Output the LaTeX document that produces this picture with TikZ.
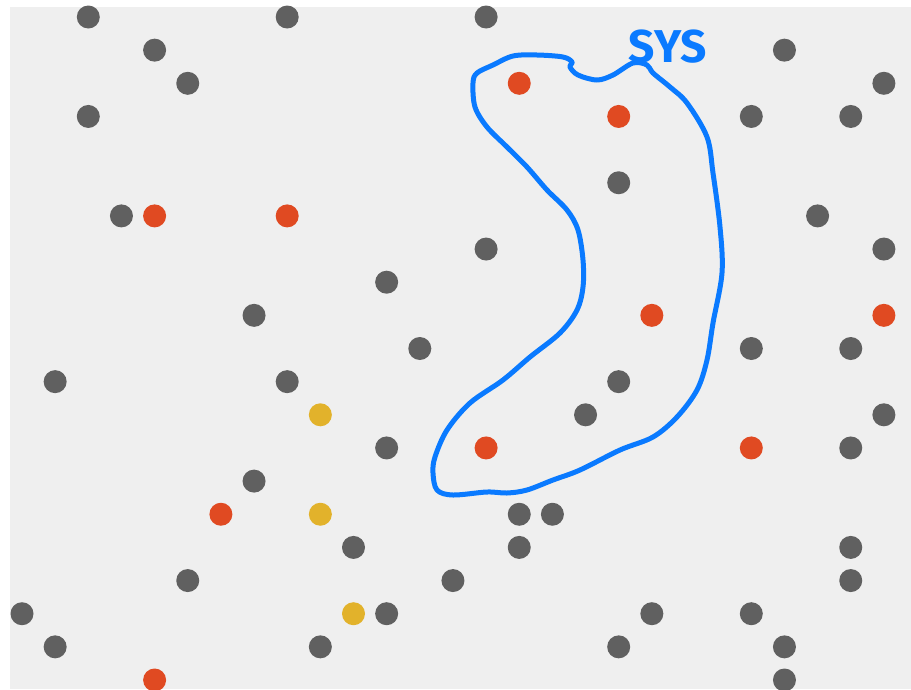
\documentclass[tikz,border=0pt]{standalone}
\usepackage{fontspec}
\usepackage{xcolor}
\usetikzlibrary{positioning}
\newfontfamily\maofonte{Fira Sans}
\definecolor{fundo}{HTML}{EFEFEF}
\definecolor{cinza}{HTML}{606060}
\definecolor{vermelho}{HTML}{E04A22}
\definecolor{amarelo}{HTML}{E2B22B}
\definecolor{azul}{HTML}{0A7AFF}

\begin{document}
\begin{tikzpicture}[
      x=1pt, y=-1pt,
      ponto/.style={radius=11.5pt},
      contorno/.style={azul, line width=5pt, line join=round, line cap=round},
      rotulo/.style={azul, font=\fontsize{46}{46}\maofonte\bfseries, inner sep=0pt}
  ]
      \def\passo{33.15}

      % --- FUNDO ---
      \useasboundingbox (0,0) rectangle (911,689);
      \fill[white] (0,0) rectangle (911,689);
      \fill[fundo] (10,7) rectangle (911,689);

      % --- PONTOS ---
      \foreach \i/\j in {2/0,8/0,14/0,4/1,23/1,5/2,26/2,2/3,22/3,25/3,18/5,3/6,24/6,
                         14/7,26/7,11/8,7/9,12/10,22/10,25/10,1/11,8/11,18/11,17/12,26/12,
                         11/13,25/13,7/14,15/15,16/15,10/16,15/16,25/16,5/17,13/17,25/17,
                         0/18,11/18,19/18,22/18,1/19,9/19,18/19,23/19,23/20}
          \fill[cinza, ponto] ({22+\passo*\i},{17+\passo*\j}) circle;
      \foreach \i/\j in {15/2,18/3,4/6,8/6,19/9,26/9,14/13,22/13,6/15,4/20}
          \fill[vermelho, ponto] ({22+\passo*\i},{17+\passo*\j}) circle;
      \foreach \i/\j in {9/12,9/15,10/18}
          \fill[amarelo, ponto] ({22+\passo*\i},{17+\passo*\j}) circle;

      % --- SISTEMA ---
      \draw[contorno] plot[smooth cycle, tension=0.55] coordinates {
          (477,73) (493,65) (513,56) (537,55) (563,57) (572,62) (570,67) (578,75)
          (597,80) (613,75) (633,63) (647,65) (653,73) (670,87) (687,103) (707,137)
          (713,173) (720,227) (722,273) (713,323) (707,360) (697,390) (677,417)
          (653,437) (620,450) (580,470) (553,480) (527,490) (507,493) (487,492)
          (453,495) (437,490) (433,473) (435,457) (447,430) (470,403) (503,380)
          (530,357) (560,333) (577,310) (583,287) (583,260) (578,230) (567,210)
          (547,190) (527,167) (507,147) (487,127) (475,107) (473,83)};
      \node[rotulo] (sys) at (668,47) {SYS};

  \end{tikzpicture}
\end{document}
